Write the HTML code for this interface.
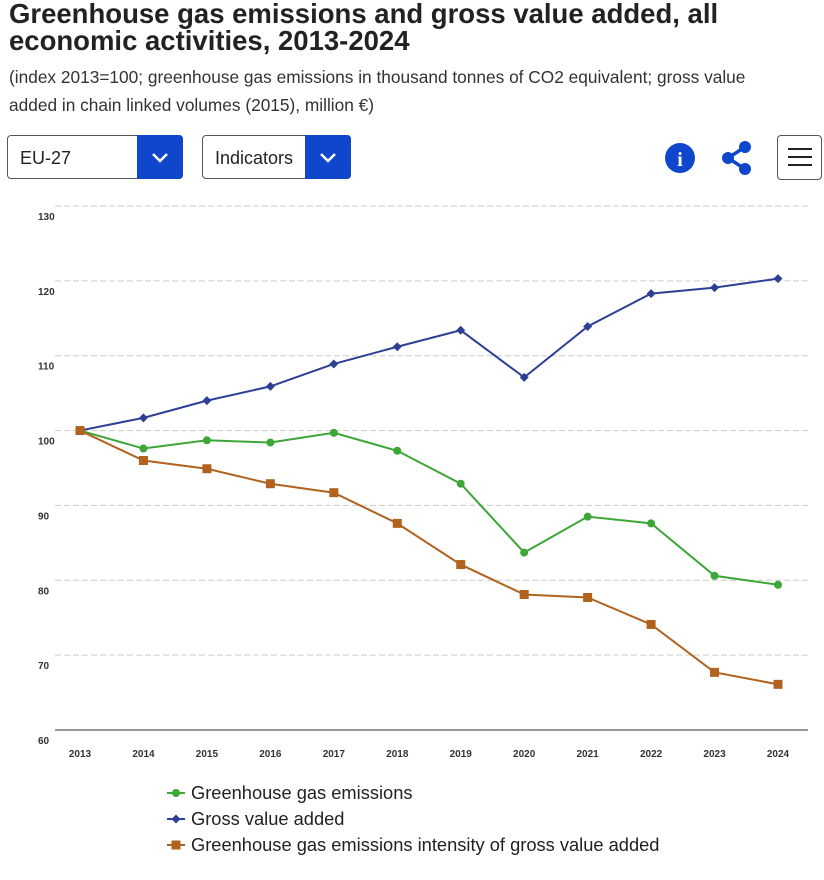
<!DOCTYPE html>
<html><head><meta charset="utf-8">
<style>
body{margin:0;width:824px;height:880px;background:#fff;font-family:"Liberation Sans",Arial,sans-serif;overflow:hidden;position:relative}
h1{position:absolute;left:9px;top:0px;margin:0;font-size:27.5px;line-height:27px;font-weight:bold;color:#222;width:760px;letter-spacing:0px}
.sub{position:absolute;left:9px;top:63px;font-size:17.3px;line-height:28px;color:#333;width:785px}
.dd{position:absolute;top:135px;height:44px;border:1px solid #555;border-radius:4px;box-sizing:border-box;background:#fff;font-size:18px;color:#222}
.dd span{position:absolute;left:12px;top:12px}
.dd .btn{position:absolute;right:-1px;top:-1px;width:46px;height:44px;background:#0e47cb;border-radius:0 4px 4px 0}
.menu{position:absolute;left:777px;top:135px;width:45px;height:45px;border:1px solid #555;border-radius:4px;box-sizing:border-box}
.menu i{position:absolute;left:10px;width:24px;height:2px;background:#222}
</style></head><body>
<h1>Greenhouse gas emissions and gross value added, all economic activities, 2013-2024</h1>
<div class="sub">(index 2013=100; greenhouse gas emissions in thousand tonnes of CO2 equivalent; gross value added in chain linked volumes (2015), million €)</div>
<div class="dd" style="left:7px;width:176px"><span>EU-27</span><div class="btn"><svg width="46" height="44"><path d="M16 19l7 7 7-7" stroke="#fff" stroke-width="2.5" fill="none"/></svg></div></div>
<div class="dd" style="left:202px;width:149px"><span>Indicators</span><div class="btn"><svg width="46" height="44"><path d="M16 19l7 7 7-7" stroke="#fff" stroke-width="2.5" fill="none"/></svg></div></div>
<svg style="position:absolute;left:664px;top:142px" width="32" height="32"><circle cx="16" cy="16" r="15" fill="#0e47cb"/><text x="16" y="24" text-anchor="middle" fill="#fff" font-size="20" font-weight="bold" font-family="Liberation Serif">i</text></svg>
<svg style="position:absolute;left:718px;top:140px" width="38" height="36"><path d="M27 7L10 18L27 29" stroke="#0e47cb" stroke-width="3.5" fill="none"/><circle cx="27" cy="7" r="6" fill="#0e47cb"/><circle cx="10" cy="18" r="6" fill="#0e47cb"/><circle cx="27" cy="29" r="6" fill="#0e47cb"/></svg>
<div class="menu"><i style="top:12px"></i><i style="top:20px"></i><i style="top:28px"></i></div>
<svg id="chart" style="position:absolute;left:0;top:190px" width="824" height="690"></svg>
<script>
const years=["2013","2014","2015","2016","2017","2018","2019","2020","2021","2022","2023","2024"];
const ghg=[100,97.6,98.7,98.4,99.7,97.3,92.9,83.7,88.5,87.6,80.6,79.4];
const gva=[100,101.7,104,105.9,108.9,111.2,113.4,107.1,113.9,118.3,119.1,120.3];
const intensity=[100,96,94.9,92.9,91.7,87.6,82.1,78.1,77.7,74.1,67.7,66.1];
const yTicks=[60,70,80,90,100,110,120,130];
const svg=document.getElementById('chart');
const NS='http://www.w3.org/2000/svg';
const x=i=>80+i*(698/(years.length-1));
const y=v=>(730-190)-(v-60)*(524/70);
function mk(t,a,p){const e=document.createElementNS(NS,t);for(const k in a)e.setAttribute(k,a[k]);(p||svg).appendChild(e);return e;}
yTicks.forEach(v=>{
 const g=mk('line',{x1:55,x2:808,y1:y(v),y2:y(v),stroke:v===60?'#333':'#ccc','stroke-dasharray':v===60?'':'6,3','stroke-width':1});
 
 
 const t=mk('text',{x:38,y:y(v)+14,'font-size':10,'font-weight':'bold',fill:'#333'});t.textContent=v;
 
 
});
years.forEach((yr,i)=>{
 const t=mk('text',{x:x(i),y:y(60)+27,'font-size':10,'font-weight':'bold',fill:'#333','text-anchor':'middle'});t.textContent=yr;
 
 
});
function series(vals,color,shape,name){
 const p=mk('polyline',{points:vals.map((v,i)=>x(i)+','+y(v)).join(' '),fill:'none',stroke:color,'stroke-width':2});
 
 
 vals.forEach((v,i)=>{
  let m;
  if(shape==='c')m=mk('circle',{cx:x(i),cy:y(v),r:4,fill:color});
  else if(shape==='d')m=mk('path',{d:`M${x(i)} ${y(v)-4.5}l4.5 4.5l-4.5 4.5l-4.5 -4.5z`,fill:color});
  else m=mk('rect',{x:x(i)-4.5,y:y(v)-4.5,width:9,height:9,fill:color});
  
  
 });
}
series(ghg,'#3ca637','c','ghg');
series(gva,'#2e3f94','d','gva');
series(intensity,'#b1621e','s','intensity');
const leg=[['Greenhouse gas emissions','#3ca637','c'],['Gross value added','#2e3f94','d'],['Greenhouse gas emissions intensity of gross value added','#b1621e','s']];
leg.forEach((l,i)=>{
 const cy=603+i*26;
 const g=mk('g',{});
 
 
 mk('line',{x1:167,x2:185,y1:cy,y2:cy,stroke:l[1],'stroke-width':2},g);
 if(l[2]==='c')mk('circle',{cx:176,cy:cy,r:4,fill:l[1]},g);
 else if(l[2]==='d')mk('path',{d:`M176 ${cy-4.5}l4.5 4.5l-4.5 4.5l-4.5 -4.5z`,fill:l[1]},g);
 else mk('rect',{x:171.5,y:cy-4.5,width:9,height:9,fill:l[1]},g);
 const t=mk('text',{x:191,y:cy+6,'font-size':18.3,fill:'#222'},g);t.textContent=l[0];
});
</script>
</body></html>
